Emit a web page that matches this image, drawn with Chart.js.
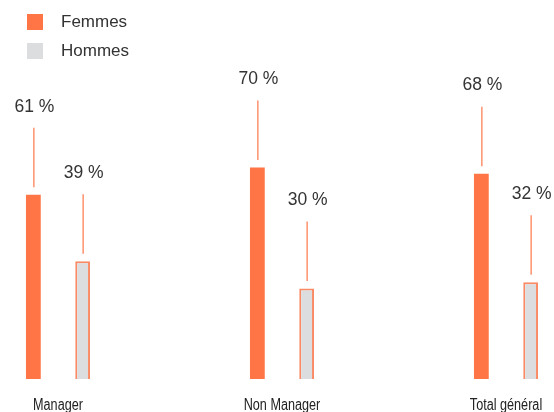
<!DOCTYPE html>
<html>
<head>
<meta charset="utf-8">
<script src="https://cdn.jsdelivr.net/npm/chart.js@4"></script>
<style>
html,body{margin:0;padding:0;background:#fff;}
#wrap{position:relative;width:554px;height:412px;}
canvas{display:block;}
</style>
</head>
<body>
<div id="wrap"><canvas id="c" width="554" height="412"></canvas></div>
<script>
const categories = ["Manager", "Non Manager", "Total général"];
const femmes = [61, 70, 68];
const hommes = [39, 30, 32];
const seriesNames = ["Femmes", "Hommes"];

const ORANGE = "#FF7546";
const GREY = "#DCDDDF";
const LINE = "#FF8A62";
const BORDER = "#FA8A64";
const TXT = "'Liberation Sans', Arial, sans-serif";

const overlay = {
  id: "overlay",
  afterLayout(chart) {
    const sx = chart.scales.x;
    if (sx._condensed) return;
    sx._condensed = true;
    const orig = sx.drawLabels.bind(sx);
    sx.drawLabels = function (area) {
      const ctx = this.ctx;
      const of = ctx.fillText;
      ctx.fillText = function (t, x, y, mw) {
        this.save();
        this.translate(x, y);
        this.scale(0.79, 1);
        of.call(this, t, 0, 0);
        this.restore();
      };
      orig(area);
      ctx.fillText = of;
    };
  },
  afterDatasetsDraw(chart) {
    const ctx = chart.ctx;
    ctx.save();
    chart.data.datasets.forEach((ds, di) => {
      const meta = chart.getDatasetMeta(di);
      meta.data.forEach((bar, i) => {
        const x = bar.x, top = bar.y;
        ctx.strokeStyle = LINE;
        ctx.lineWidth = 1.4;
        ctx.beginPath();
        ctx.moveTo(x + 0.5, top - 7.5);
        ctx.lineTo(x + 0.5, top - 67);
        ctx.stroke();
        ctx.fillStyle = "#333";
        ctx.font = "17.5px " + TXT;
        ctx.textAlign = "center";
        ctx.textBaseline = "middle";
        ctx.fillText(ds.data[i] + " %", x + 1, top - 88);
      });
    });
    const items = [[seriesNames[0], ORANGE], [seriesNames[1], GREY]];
    items.forEach((it, k) => {
      const y = 14 + k * 29;
      ctx.fillStyle = it[1];
      ctx.fillRect(27, y, 16, 16);
      ctx.fillStyle = "#333";
      ctx.font = "17px " + TXT;
      ctx.textAlign = "left";
      ctx.textBaseline = "middle";
      ctx.fillText(it[0], 61, y + 8);
    });
    ctx.restore();
  }
};

new Chart(document.getElementById("c"), {
  type: "bar",
  data: {
    labels: categories,
    datasets: [
      { label: seriesNames[0], data: femmes, backgroundColor: ORANGE, borderWidth: 0, clip: false },
      { label: seriesNames[1], data: hommes, backgroundColor: GREY, borderColor: BORDER, borderWidth: 2, clip: false }
    ]
  },
  options: {
    responsive: false,
    animation: false,
    layout: { padding: { left: 58, right: 48, top: 77, bottom: 0 } },
    datasets: { bar: { categoryPercentage: 0.44, barPercentage: 0.3 } },
    plugins: { legend: { display: false }, tooltip: { enabled: false } },
    scales: {
      x: {
        offset: false,
        grid: { display: false, drawTicks: false },
        border: { display: false },
        afterFit(scale) {
          scale.height = 33;
          scale.paddingLeft = 0;
          scale.paddingRight = 0;
        },
        ticks: {
          padding: 17,
          color: "#222",
          font: { family: TXT, size: 16 },
          maxRotation: 0,
          autoSkip: false
        }
      },
      y: { display: false, min: 0, max: 100 }
    }
  },
  plugins: [overlay]
});
</script>
</body>
</html>
